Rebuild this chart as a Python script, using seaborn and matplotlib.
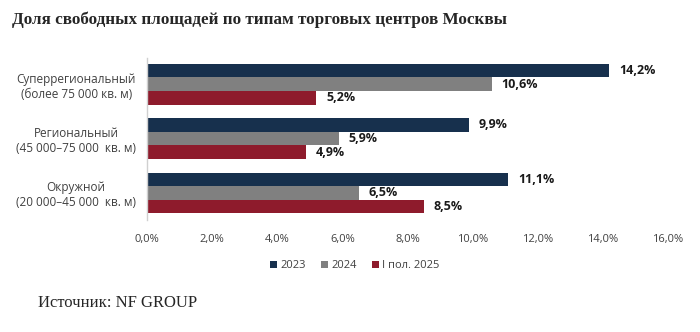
import matplotlib
matplotlib.use("Agg")
import matplotlib.pyplot as plt
import seaborn as sns
import pandas as pd
from matplotlib.patches import Patch

categories = ["Суперрегиональный\n(более 75 000 кв. м)",
              "Региональный\n(45 000–75 000  кв. м)",
              "Окружной\n(20 000–45 000  кв. м)"]
series = ["2023", "2024", "I пол. 2025"]
v2023 = [14.2, 9.9, 11.1]
v2024 = [10.6, 5.9, 6.5]
v2025 = [5.2, 4.9, 8.5]
xticks = [0, 2, 4, 6, 8, 10, 12, 14, 16]
colors = ["#17304d", "#808080", "#8e1b2c"]

rows = []
for s, vals in zip(series, [v2023, v2024, v2025]):
    for c, v in zip(categories, vals):
        rows.append({"cat": c, "series": s, "val": v})
df = pd.DataFrame(rows)

sns.set_theme(style="white")
plt.rcParams["font.family"] = ["Open Sans", "DejaVu Sans"]

fig = plt.figure(figsize=(7, 3.32), dpi=100)
ax = fig.add_axes([0.21, 0.337, 0.744, 0.488])
sns.barplot(data=df, y="cat", x="val", hue="series", order=categories,
            hue_order=series, palette=colors, orient="h", width=0.75,
            ax=ax, legend=False, saturation=1, edgecolor="none")

for cont in ax.containers:
    ax.bar_label(cont, labels=[f"{v:.1f}%".replace(".", ",") for v in cont.datavalues],
                 padding=7, fontsize=9, fontweight="bold", color="#1a1a1a")

ax.set_xlim(0, 16)
ax.set_ylim(2.5, -0.48)
ax.set_xticks(xticks)
ax.set_xticklabels([f"{t:.1f}%".replace(".", ",") for t in xticks], fontsize=8, color="#404040")
ax.tick_params(axis="y", labelsize=8.5, labelcolor="#404040", pad=8, length=0)
ax.tick_params(axis="x", length=0, pad=10)
for lab in ax.get_yticklabels():
    lab.set_multialignment("center")
ax.set_xlabel("")
ax.set_ylabel("")
for sp in ["top", "right", "bottom"]:
    ax.spines[sp].set_visible(False)
ax.spines["left"].set_color("#d0d0d0")
ax.spines["left"].set_linewidth(1)

handles = [Patch(facecolor=c, edgecolor="none") for c in colors]
fig.legend(handles, series, loc="center", bbox_to_anchor=(0.507, 0.2), ncol=3,
           frameon=False, fontsize=8, handlelength=0.6, handleheight=0.6,
           handletextpad=0.3, columnspacing=1.4, labelcolor="#404040")

fig.text(0.017, 0.94, "Доля свободных площадей по типам торговых центров Москвы",
         fontsize=12.3, fontweight="bold", family=["Liberation Serif"], va="center", ha="left")
fig.text(0.054, 0.087, "Источник: NF GROUP", fontsize=12, family=["Liberation Serif"],
         va="center", ha="left")

fig.savefig("out.png", dpi=100)
